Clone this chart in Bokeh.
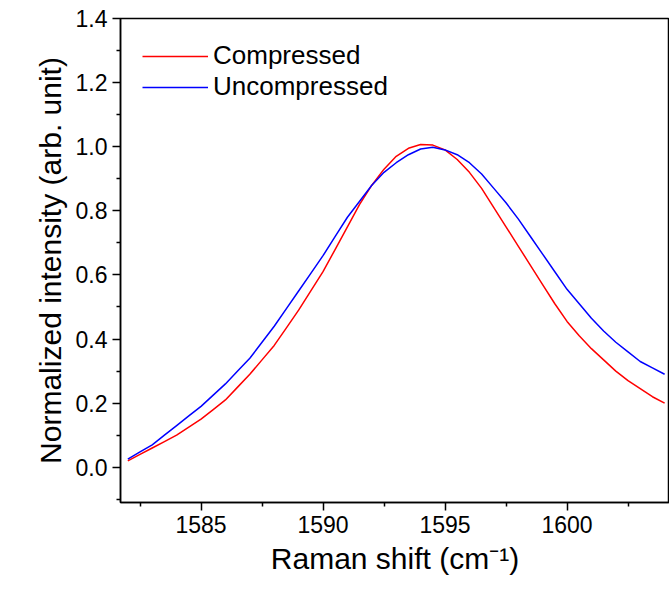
from bokeh.plotting import figure
from bokeh.embed import file_html
from bokeh.resources import INLINE
from bokeh.models import Range1d, FixedTicker, CustomJSTickFormatter

shift = [1582 + 0.5 * i for i in range(45)]
compressed = [0.02, 0.04, 0.06, 0.08, 0.10, 0.125, 0.15, 0.18, 0.21, 0.25, 0.29, 0.335,
              0.38, 0.435, 0.49, 0.55, 0.61, 0.68, 0.75, 0.82, 0.88, 0.93, 0.97, 0.995,
              1.007, 1.005, 0.99, 0.96, 0.92, 0.87, 0.81, 0.75, 0.69, 0.63, 0.57, 0.51,
              0.455, 0.41, 0.37, 0.335, 0.30, 0.27, 0.245, 0.22, 0.20]
uncompressed = [0.025, 0.048, 0.07, 0.10, 0.13, 0.16, 0.19, 0.225, 0.26, 0.30, 0.34, 0.39,
                0.44, 0.495, 0.55, 0.605, 0.66, 0.72, 0.78, 0.83, 0.88, 0.92, 0.95, 0.975,
                0.993, 0.998, 0.99, 0.975, 0.95, 0.915, 0.87, 0.825, 0.775, 0.72, 0.665, 0.61,
                0.555, 0.51, 0.465, 0.425, 0.39, 0.36, 0.33, 0.31, 0.29]

p = figure(width=669, height=590, output_backend="svg", toolbar_location=None,
           x_range=Range1d(1581.7, 1604.2), y_range=Range1d(-0.11, 1.4),
           min_border_left=120, min_border_bottom=88, min_border_top=18, min_border_right=0)
p.line(shift, compressed, color="red", line_width=1.5, legend_label="Compressed")
p.line(shift, uncompressed, color="blue", line_width=1.5, legend_label="Uncompressed")

p.xgrid.visible = False
p.ygrid.visible = False
p.outline_line_color = "black"
p.outline_line_width = 1.5
p.xaxis.ticker = FixedTicker(ticks=[1585, 1590, 1595, 1600], minor_ticks=[1582.5, 1587.5, 1592.5, 1597.5, 1602.5])
p.yaxis.ticker = FixedTicker(ticks=[0.0, 0.2, 0.4, 0.6, 0.8, 1.0, 1.2, 1.4],
                             minor_ticks=[-0.1, 0.1, 0.3, 0.5, 0.7, 0.9, 1.1, 1.3])
p.yaxis.formatter = CustomJSTickFormatter(code="return tick.toFixed(1)")
for ax in (p.xaxis, p.yaxis):
    ax.axis_label_text_font = "Liberation Sans"
    ax.axis_label_text_font_style = "normal"
    ax.axis_label_text_font_size = "30px"
    ax.axis_label_text_color = "black"
    ax.axis_label_standoff = 6
    ax.major_label_text_font = "Liberation Sans"
    ax.major_label_text_font_size = "23px"
    ax.major_label_text_color = "black"
    ax.axis_line_width = 1.5
    ax.major_tick_line_width = 1.5
    ax.minor_tick_line_width = 1.5
    ax.major_tick_out = 8
    ax.major_tick_in = 0
    ax.minor_tick_out = 4
    ax.minor_tick_in = 0
p.xaxis.axis_label = "Raman shift (cm\u207b\u00b9)"
p.yaxis.axis_label = "Normalized intensity (arb. unit)"
p.legend.location = "top_left"
p.legend.border_line_color = None
p.legend.background_fill_alpha = 0
p.legend.label_text_font = "Liberation Sans"
p.legend.label_text_font_size = "26px"
p.legend.label_text_color = "black"
p.legend.glyph_width = 66
p.legend.spacing = 0
p.legend.label_height = 30
p.legend.padding = 6
p.legend.margin = 22

open("out.html", "w").write(file_html(p, INLINE))
